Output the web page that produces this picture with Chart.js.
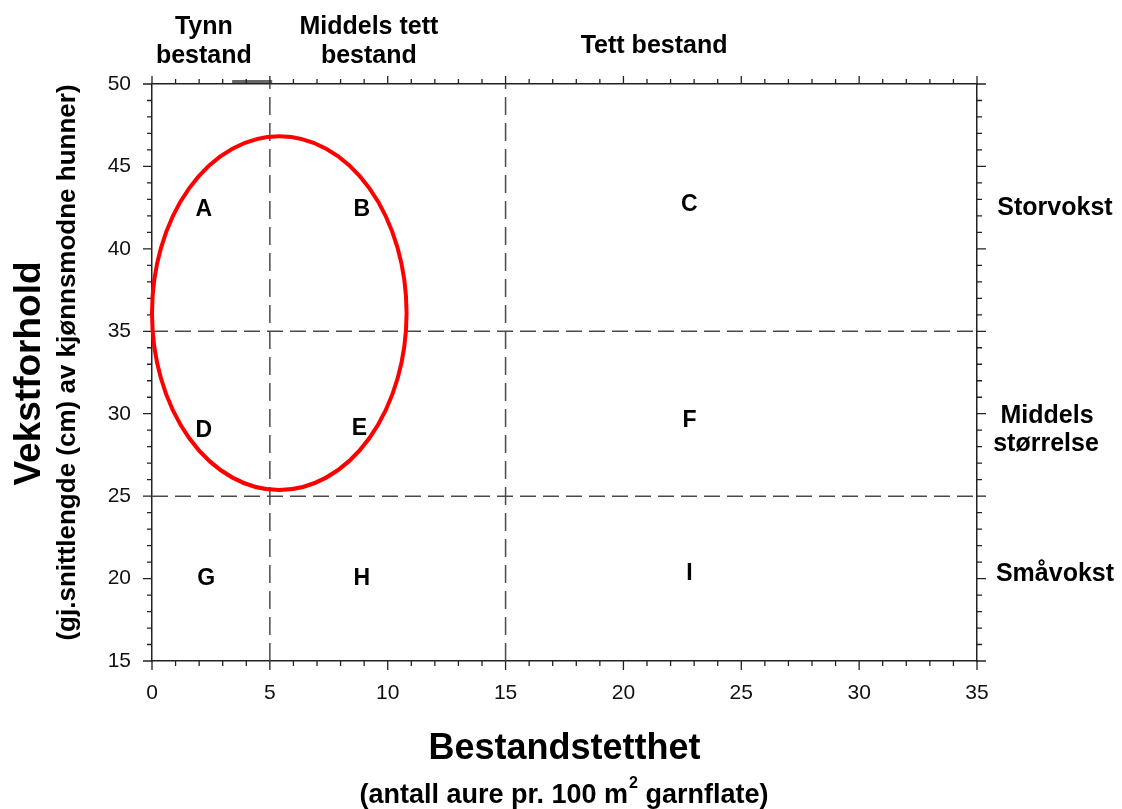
<!DOCTYPE html>
<html>
<head>
<meta charset="utf-8">
<script src="https://cdn.jsdelivr.net/npm/chart.js@4/dist/chart.umd.min.js"></script>
<style>
  html, body { margin: 0; padding: 0; background: #fff; }
</style>
</head>
<body>
<canvas id="myChart" width="1122" height="809"></canvas>
<script>
// axis ranges
const xRange = [0, 35];
const yRange = [15, 50];

// class borders (dashed lines)
const densityBreaks = [5, 15];
const growthBreaks = [25, 35];

// region letters and where they sit
const regionLetters = ['A', 'B', 'C', 'D', 'E', 'F', 'G', 'H', 'I'];
const regionX = [2.2, 8.9, 22.8, 2.2, 8.8, 22.8, 2.3, 8.9, 22.8];
const regionY = [42.4, 42.4, 42.7, 29.0, 29.1, 29.6, 20.0, 20.0, 20.3];

// red ellipse: centre x, centre y, half width, half height (data units)
const ellipse = [5.4, 36.1, 5.4, 10.73];

// small grey mark on the top axis
const topMarkX = [3.4, 5.1];
const topMarkY = [50.15, 50.15];

// class names
const densityNames = [['Tynn', 'bestand'], ['Middels tett', 'bestand'], ['Tett bestand']];
const densityNameX = [2.2, 9.2, 21.3];
const growthNames = [['Storvokst'], ['Middels', 'størrelse'], ['Småvokst']];
const growthNameY = [42.5, 29.0, 20.3];

const FONT = '"Liberation Sans", Arial, sans-serif';

const dashColor = '#4a4a4a';
const dashedSets = [];
densityBreaks.forEach(v => {
  dashedSets.push({
    data: [{x: v, y: yRange[0]}, {x: v, y: yRange[1]}],
    showLine: true, borderColor: dashColor, borderWidth: 1.5,
    borderDash: [18, 8], pointRadius: 0
  });
});
growthBreaks.forEach(v => {
  dashedSets.push({
    data: [{x: xRange[0], y: v}, {x: xRange[1], y: v}],
    showLine: true, borderColor: dashColor, borderWidth: 1.5,
    borderDash: [16, 7], pointRadius: 0
  });
});

const regionSet = {
  data: regionX.map((x, i) => ({x: x, y: regionY[i]})),
  pointRadius: 0, showLine: false
};

const topMarkSet = {
  data: topMarkX.map((x, i) => ({x: x, y: topMarkY[i]})),
  showLine: true, borderColor: '#666', borderWidth: 3, pointRadius: 0, clip: false
};

const decor = {
  id: 'decor',
  afterDatasetsDraw(chart) {
    const ctx = chart.ctx;
    const xs = chart.scales.x, ys = chart.scales.y;
    const area = chart.chartArea;

    // tick marks on all four sides
    ctx.save();
    ctx.strokeStyle = '#222';
    ctx.lineWidth = 1.3;
    ctx.beginPath();
    xs.ticks.forEach(t => {
      const px = xs.getPixelForValue(t.value);
      const len = t.value % 5 === 0 ? 9 : 5;
      ctx.moveTo(px, area.bottom); ctx.lineTo(px, area.bottom + len);
      const lenTop = t.value % 5 === 0 ? 8 : 5;
      ctx.moveTo(px, area.top); ctx.lineTo(px, area.top - lenTop);
    });
    ys.ticks.forEach(t => {
      const py = ys.getPixelForValue(t.value);
      const len = t.value % 5 === 0 ? 9 : 5;
      ctx.moveTo(area.left, py); ctx.lineTo(area.left - len, py);
      ctx.moveTo(area.right, py); ctx.lineTo(area.right + len, py);
    });
    ctx.stroke();
    ctx.restore();

    // ellipse
    const cx = xs.getPixelForValue(ellipse[0]);
    const cy = ys.getPixelForValue(ellipse[1]);
    const rx = Math.abs(xs.getPixelForValue(ellipse[0] + ellipse[2]) - cx);
    const ry = Math.abs(ys.getPixelForValue(ellipse[1] + ellipse[3]) - cy);
    ctx.save();
    ctx.strokeStyle = '#ff0000';
    ctx.lineWidth = 4;
    ctx.beginPath();
    ctx.ellipse(cx, cy, rx, ry, 0, 0, Math.PI * 2);
    ctx.stroke();
    ctx.restore();

    ctx.save();
    ctx.fillStyle = '#000';
    ctx.textAlign = 'center';
    ctx.textBaseline = 'middle';

    // region letters
    ctx.font = 'bold 23px ' + FONT;
    const pts = chart.getDatasetMeta(4).data;
    pts.forEach((p, i) => ctx.fillText(regionLetters[i], p.x, p.y));

    // density classes above the plot
    ctx.font = 'bold 25px ' + FONT;
    densityNames.forEach((lines, i) => {
      const px = xs.getPixelForValue(densityNameX[i]);
      if (lines.length === 2) {
        ctx.fillText(lines[0], px, area.top - 57);
        ctx.fillText(lines[1], px, area.top - 28);
      } else {
        ctx.fillText(lines[0], px, area.top - 38);
      }
    });

    // growth classes right of the plot
    growthNames.forEach((lines, i) => {
      const py = ys.getPixelForValue(growthNameY[i]);
      const px = area.right + 78;
      if (lines.length === 2) {
        ctx.fillText(lines[0], px - 8, py - 14);
        ctx.fillText(lines[1], px - 9, py + 14);
      } else {
        ctx.fillText(lines[0], px, py);
      }
    });

    // x axis title
    const midX = (area.left + area.right) / 2;
    ctx.font = 'bold 36px ' + FONT;
    ctx.fillText('Bestandstetthet', midX, area.bottom + 88);

    ctx.font = 'bold 27px ' + FONT;
    const a = '(antall aure pr. 100 m', b = ' garnflate)';
    const wa = ctx.measureText(a).width, wb = ctx.measureText(b).width;
    ctx.font = 'bold 16px ' + FONT;
    const ws = ctx.measureText('2').width;
    let sx = midX - 1 - (wa + ws + wb) / 2;
    const sy = area.bottom + 135;
    ctx.textAlign = 'left';
    ctx.font = 'bold 27px ' + FONT;
    ctx.fillText(a, sx, sy);
    ctx.font = 'bold 16px ' + FONT;
    ctx.fillText('2', sx + wa + 1, sy - 12);
    ctx.font = 'bold 27px ' + FONT;
    ctx.fillText(b, sx + wa + ws + 1, sy);

    // y axis title
    ctx.textAlign = 'center';
    ctx.translate(area.left - 122, (area.top + area.bottom) / 2 + 1);
    ctx.rotate(-Math.PI / 2);
    ctx.font = 'bold 37px ' + FONT;
    ctx.fillText('Vekstforhold', 0, 0);
    ctx.font = 'bold 26px ' + FONT;
    ctx.fillText('(gj.snittlengde (cm) av kjønnsmodne hunner)', 11, 38);
    ctx.restore();
  }
};

const ctx = document.getElementById('myChart').getContext('2d');
const chart = new Chart(ctx, {
  type: 'scatter',
  data: {
    datasets: [...dashedSets, regionSet, topMarkSet]
  },
  options: {
    responsive: false,
    animation: false,
    layout: { padding: 0 },
    plugins: {
      legend: { display: false },
      tooltip: { enabled: false }
    },
    scales: {
      x: {
        type: 'linear', position: 'bottom', min: xRange[0], max: xRange[1],
        ticks: {
          stepSize: 1, autoSkip: false, maxRotation: 0, padding: 20,
          color: '#111', font: { family: FONT, size: 21 },
          callback: v => (v % 5 === 0 ? v : '')
        },
        grid: { drawOnChartArea: false, drawTicks: false },
        border: { color: '#222', width: 1.5 },
        afterFit: s => { s.height = 148; }
      },
      x2: {
        type: 'linear', position: 'top', min: xRange[0], max: xRange[1],
        ticks: { display: false, stepSize: 1 },
        grid: { drawOnChartArea: false, drawTicks: false },
        border: { color: '#222', width: 1.5 },
        afterFit: s => { s.height = 84; }
      },
      y: {
        type: 'linear', position: 'left', min: yRange[0], max: yRange[1],
        ticks: {
          stepSize: 1, autoSkip: false, padding: 21,
          color: '#111', font: { family: FONT, size: 21 },
          callback: v => (v % 5 === 0 ? v : '')
        },
        grid: { drawOnChartArea: false, drawTicks: false },
        border: { color: '#222', width: 1.5 },
        afterFit: s => { s.width = 152; }
      },
      y2: {
        type: 'linear', position: 'right', min: yRange[0], max: yRange[1],
        ticks: { display: false, stepSize: 1 },
        grid: { drawOnChartArea: false, drawTicks: false },
        border: { color: '#222', width: 1.5 },
        afterFit: s => { s.width = 145; }
      }
    }
  },
  plugins: [decor]
});
</script>
</body>
</html>
